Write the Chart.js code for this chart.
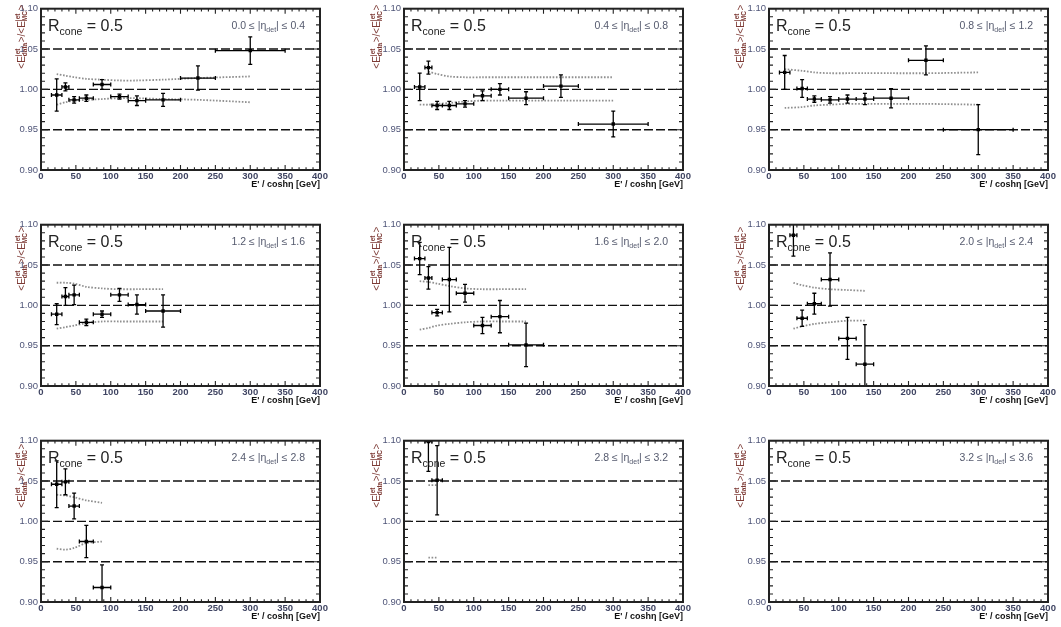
<!DOCTYPE html>
<html>
<head>
<meta charset="utf-8">
<script src="https://cdn.jsdelivr.net/npm/chart.js@4/dist/chart.umd.min.js"></script>
<style>
  body { margin: 0; background: #fff; }
  #wrap { position: relative; width: 1061px; height: 627px; overflow: hidden; }
  #wrap canvas { position: absolute; }
</style>
</head>
<body>
<div id="wrap"></div>
<script>
// E' / cosh(eta) bins [GeV]
const binMid = [22.5, 35, 47.5, 65, 87.5, 112.5, 137.5, 175, 225, 300]
const binLo = [15, 30, 40, 55, 75, 100, 125, 150, 200, 250]
const binHi = [30, 40, 55, 75, 100, 125, 150, 200, 250, 350]

const refLevels = [0.95, 1.00, 1.05]

// data/MC ratio per |eta_det| bin, one value per E' bin (null = no point)
const ratio_00_04 = [0.993, 1.003, 0.987, 0.989, 1.006, 0.991, 0.986, 0.987, 1.014, 1.048]
const err_00_04 = [0.020, 0.005, 0.004, 0.004, 0.006, 0.003, 0.006, 0.008, 0.015, 0.017]
const bandHi_00_04 = [1.019, 1.017, 1.015, 1.013, 1.012, 1.011, 1.011, 1.012, 1.014, 1.016]
const bandLo_00_04 = [0.981, 0.984, 0.986, 0.987, 0.988, 0.989, 0.989, 0.988, 0.987, 0.984]

const ratio_04_08 = [1.003, 1.027, 0.980, 0.980, 0.982, 0.992, 1.000, 0.989, 1.004, 0.957]
const err_04_08 = [0.017, 0.008, 0.005, 0.005, 0.004, 0.006, 0.007, 0.008, 0.014, 0.016]
const bandHi_04_08 = [null, 1.022, 1.019, 1.016, 1.015, 1.015, 1.015, 1.015, 1.015, 1.015]
const bandLo_04_08 = [0.981, 0.981, 0.982, 0.983, 0.985, 0.986, 0.986, 0.986, 0.986, 0.986]

const ratio_08_12 = [1.021, null, 1.001, 0.988, 0.987, 0.988, 0.988, 0.989, 1.036, 0.950]
const err_08_12 = [0.021, null, 0.011, 0.004, 0.004, 0.005, 0.007, 0.012, 0.018, 0.031]
const bandHi_08_12 = [1.025, null, 1.023, 1.021, 1.020, 1.020, 1.020, 1.020, 1.020, 1.021]
const bandLo_08_12 = [0.977, null, 0.978, 0.980, 0.981, 0.982, 0.982, 0.982, 0.982, 0.981]

const ratio_12_16 = [0.989, 1.011, 1.013, 0.979, 0.989, 1.013, 1.001, 0.993, null, null]
const err_12_16 = [0.013, 0.011, 0.012, 0.004, 0.004, 0.008, 0.012, 0.020, null, null]
const bandHi_12_16 = [1.028, 1.028, 1.027, 1.023, 1.021, 1.020, 1.020, 1.020, null, null]
const bandLo_12_16 = [0.971, 0.973, 0.975, 0.978, 0.980, 0.980, 0.980, 0.980, null, null]

const ratio_16_20 = [1.058, 1.034, 0.991, 1.032, 1.015, 0.975, 0.986, 0.951, null, null]
const err_16_20 = [0.020, 0.014, 0.004, 0.040, 0.011, 0.010, 0.020, 0.027, null, null]
const bandHi_16_20 = [1.030, 1.029, 1.027, 1.024, 1.021, 1.020, 1.020, 1.020, null, null]
const bandLo_16_20 = [0.970, 0.972, 0.975, 0.977, 0.979, 0.980, 0.980, 0.980, null, null]

const ratio_20_24 = [null, 1.087, 0.984, 1.002, 1.032, 0.959, 0.927, null, null, null]
const err_20_24 = [null, 0.026, 0.010, 0.013, 0.033, 0.026, 0.049, null, null, null]
const bandHi_20_24 = [null, 1.028, 1.025, 1.022, 1.020, 1.019, 1.018, null, null, null]
const bandLo_20_24 = [null, 0.971, 0.974, 0.977, 0.979, 0.981, 0.981, null, null, null]

const ratio_24_28 = [1.046, 1.049, 1.019, 0.975, 0.918, null, null, null, null, null]
const err_24_28 = [0.029, 0.016, 0.016, 0.020, 0.028, null, null, null, null, null]
const bandHi_24_28 = [1.033, 1.032, 1.030, 1.026, 1.023, null, null, null, null, null]
const bandLo_24_28 = [0.966, 0.965, 0.967, 0.973, 0.975, null, null, null, null, null]

const ratio_28_32 = [null, 1.099, 1.051, null, null, null, null, null, null, null]
const err_28_32 = [null, 0.037, 0.043, null, null, null, null, null, null, null]
const bandHi_28_32 = [null, 1.045, 1.045, null, null, null, null, null, null, null]
const bandLo_28_32 = [null, 0.955, 0.955, null, null, null, null, null, null, null]

const ratio_32_36 = [null, null, null, null, null, null, null, null, null, null]
const err_32_36 = [null, null, null, null, null, null, null, null, null, null]
const bandHi_32_36 = [null, null, null, null, null, null, null, null, null, null]
const bandLo_32_36 = [null, null, null, null, null, null, null, null, null, null]

const panels = [
  { eta: ['0.0', '0.4'], ratio: ratio_00_04, err: err_00_04, hi: bandHi_00_04, lo: bandLo_00_04 },
  { eta: ['0.4', '0.8'], ratio: ratio_04_08, err: err_04_08, hi: bandHi_04_08, lo: bandLo_04_08 },
  { eta: ['0.8', '1.2'], ratio: ratio_08_12, err: err_08_12, hi: bandHi_08_12, lo: bandLo_08_12 },
  { eta: ['1.2', '1.6'], ratio: ratio_12_16, err: err_12_16, hi: bandHi_12_16, lo: bandLo_12_16 },
  { eta: ['1.6', '2.0'], ratio: ratio_16_20, err: err_16_20, hi: bandHi_16_20, lo: bandLo_16_20 },
  { eta: ['2.0', '2.4'], ratio: ratio_20_24, err: err_20_24, hi: bandHi_20_24, lo: bandLo_20_24 },
  { eta: ['2.4', '2.8'], ratio: ratio_24_28, err: err_24_28, hi: bandHi_24_28, lo: bandLo_24_28 },
  { eta: ['2.8', '3.2'], ratio: ratio_28_32, err: err_28_32, hi: bandHi_28_32, lo: bandLo_28_32 },
  { eta: ['3.2', '3.6'], ratio: ratio_32_36, err: err_32_36, hi: bandHi_32_36, lo: bandLo_32_36 },
]

// layout of the 3x3 grid (plot area corners)
const plotLeft = [41, 404, 769]
const plotTop = [7, 223, 439]
const plotW = 279, plotH = 163
const padL = 41, padT = 7, padR = 12, padB = 20
const titleDx = [-20, -28, -29]
const titleDy = [-4, 2, 3]

const FONT = '"Liberation Sans", Arial, sans-serif'

// error bars with end caps, ROOT style
const errorBars = {
  id: 'errorBars',
  afterDatasetsDraw(chart) {
    const { ctx, chartArea: a, scales: { x, y } } = chart
    const pts = chart.data.datasets[0].data
    ctx.save()
    ctx.beginPath()
    ctx.rect(a.left, a.top, a.width, a.height)
    ctx.clip()
    ctx.strokeStyle = '#000'
    ctx.lineWidth = 1.3
    ctx.beginPath()
    pts.forEach(d => {
      const px = x.getPixelForValue(d.x), py = y.getPixelForValue(d.y)
      const xl = x.getPixelForValue(d.lo), xr = x.getPixelForValue(d.hi)
      const yt = y.getPixelForValue(d.y + d.err), yb = y.getPixelForValue(d.y - d.err)
      ctx.moveTo(xl, py); ctx.lineTo(xr, py)
      ctx.moveTo(xl, py - 2); ctx.lineTo(xl, py + 2)
      ctx.moveTo(xr, py - 2); ctx.lineTo(xr, py + 2)
      ctx.moveTo(px, yt); ctx.lineTo(px, yb)
      ctx.moveTo(px - 2, yt); ctx.lineTo(px + 2, yt)
      ctx.moveTo(px - 2, yb); ctx.lineTo(px + 2, yb)
    })
    ctx.stroke()
    ctx.restore()
  }
}

// frame with inside ticks on all four sides
const frame = {
  id: 'frame',
  afterDraw(chart) {
    const { ctx, chartArea: a, scales: { x, y } } = chart
    ctx.save()
    ctx.strokeStyle = '#222'
    ctx.lineWidth = 1.1
    ctx.beginPath()
    for (let v = 0; v <= 400; v += 10) {
      const px = x.getPixelForValue(v)
      const len = v % 50 === 0 ? 5 : 2.7
      ctx.moveTo(px, a.bottom); ctx.lineTo(px, a.bottom - len)
      ctx.moveTo(px, a.top); ctx.lineTo(px, a.top + len)
    }
    for (let k = 0; k <= 20; k++) {
      const py = y.getPixelForValue(0.9 + k * 0.01)
      const len = k % 5 === 0 ? 7 : 4
      ctx.moveTo(a.left, py); ctx.lineTo(a.left + len, py)
      ctx.moveTo(a.right, py); ctx.lineTo(a.right - len, py)
    }
    ctx.stroke()
    ctx.lineWidth = 2
    ctx.strokeRect(a.left, a.top, a.width, a.height)
    ctx.restore()
  }
}

function drawRuns(ctx, x, y, parts) {
  parts.forEach(([t, f, dy]) => {
    ctx.font = f
    ctx.fillText(t, x, y + dy)
    x += ctx.measureText(t).width
  })
}

function runsWidth(ctx, parts) {
  return parts.reduce((s, [t, f]) => { ctx.font = f; return s + ctx.measureText(t).width }, 0)
}

function drawYTitle(ctx, cx, yEnd) {
  const big = `10px ${FONT}`, small = `bold 6.5px ${FONT}`
  const parts = [['<E'], ['jet', 'data'], ['>/<E'], ['jet', 'MC'], ['>']]
  const w = parts.map(pt => {
    if (pt.length === 1) { ctx.font = big; return ctx.measureText(pt[0]).width }
    ctx.font = small
    return Math.max(ctx.measureText(pt[0]).width, ctx.measureText(pt[1]).width) + 0.5
  })
  const total = w.reduce((s, v) => s + v, 0)
  ctx.save()
  ctx.translate(cx, yEnd + total)
  ctx.rotate(-Math.PI / 2)
  ctx.fillStyle = '#7d3a35'
  ctx.textBaseline = 'alphabetic'
  let u = 0
  parts.forEach((pt, i) => {
    if (pt.length === 1) {
      ctx.font = big
      ctx.fillText(pt[0], u, 3.5)
    } else {
      ctx.font = small
      ctx.fillText(pt[0], u, -1.5)
      ctx.fillText(pt[1], u, 6)
    }
    u += w[i]
  })
  ctx.restore()
}

const panelText = (p, col, row) => ({
  id: 'panelText',
  afterDraw(chart) {
    const { ctx, chartArea: a } = chart
    ctx.save()
    ctx.textBaseline = 'alphabetic'
    ctx.textAlign = 'left'
    // R_cone = 0.5
    ctx.fillStyle = '#222'
    drawRuns(ctx, a.left + 7, a.top + 22, [
      ['R', `16px ${FONT}`, 0],
      ['cone', `10.5px ${FONT}`, 4],
      [' = 0.5', `16px ${FONT}`, 0],
    ])
    // eta range
    ctx.fillStyle = '#555a6e'
    const etaParts = [
      [`${p.eta[0]} \u2264 |\u03b7`, `10.5px ${FONT}`, 0],
      ['det', `7px ${FONT}`, 3.5],
      [`| \u2264 ${p.eta[1]}`, `10.5px ${FONT}`, 0],
    ]
    drawRuns(ctx, a.right - 15 - runsWidth(ctx, etaParts), a.top + 20, etaParts)
    ctx.restore()
    drawYTitle(ctx, a.left + titleDx[col], a.top + titleDy[row])
  }
})

const wrap = document.getElementById('wrap')

panels.forEach((p, k) => {
  const col = k % 3, row = Math.floor(k / 3)
  const canvas = document.createElement('canvas')
  const cw = padL + plotW + padR, ch = padT + plotH + padB
  canvas.width = cw
  canvas.height = ch
  canvas.style.width = cw + 'px'
  canvas.style.height = ch + 'px'
  canvas.style.left = (plotLeft[col] - padL) + 'px'
  canvas.style.top = (plotTop[row] - padT) + 'px'
  wrap.appendChild(canvas)

  const points = binMid
    .map((x, i) => ({ x, y: p.ratio[i], err: p.err[i], lo: binLo[i], hi: binHi[i] }))
    .filter(d => d.y != null)
  const band = arr => binMid.map((x, i) => ({ x, y: arr[i] })).filter(d => d.y != null)

  const datasets = [
    { type: 'scatter', data: points, pointStyle: 'rect', pointRadius: 2.4, backgroundColor: '#000', borderColor: '#000', borderWidth: 0 },
    { type: 'line', data: band(p.hi), borderColor: '#8f8f8f', borderWidth: 1.8, borderDash: [1.6, 1.6], pointRadius: 0, tension: 0.3, fill: false },
    { type: 'line', data: band(p.lo), borderColor: '#8f8f8f', borderWidth: 1.8, borderDash: [1.6, 1.6], pointRadius: 0, tension: 0.3, fill: false },
    ...refLevels.map(v => ({
      type: 'line', data: [{ x: 0, y: v }, { x: 400, y: v }],
      borderColor: '#111', borderWidth: 1.4, borderDash: [9, 3], pointRadius: 0, fill: false
    })),
  ]

  new Chart(canvas, {
    data: { datasets },
    options: {
      responsive: false,
      animation: false,
      devicePixelRatio: 1,
      layout: { padding: { top: padT, right: padR, left: 0, bottom: 0 } },
      plugins: { legend: { display: false }, tooltip: { enabled: false } },
      scales: {
        x: {
          type: 'linear', min: 0, max: 400,
          grid: { display: false, drawTicks: false },
          border: { display: false },
          ticks: { stepSize: 50, maxRotation: 0, autoSkip: false, padding: 1, color: '#3f4462', font: { family: FONT, size: 9.5, weight: 'bold' } },
          title: { display: true, text: "E' / cosh\u03b7 [GeV]", align: 'end', padding: 0, color: '#111', font: { family: FONT, size: 9, weight: 'bold' } },
          afterFit: s => { s.height = padB },
        },
        y: {
          type: 'linear', min: 0.9, max: 1.1,
          grid: { display: false, drawTicks: false },
          border: { display: false },
          ticks: { stepSize: 0.05, padding: 3, color: '#4f5578', font: { family: FONT, size: 9.5 }, callback: v => v.toFixed(2) },
          afterFit: s => { s.width = padL },
        },
      },
    },
    plugins: [errorBars, frame, panelText(p, col, row)],
  })
})
</script>
</body>
</html>
